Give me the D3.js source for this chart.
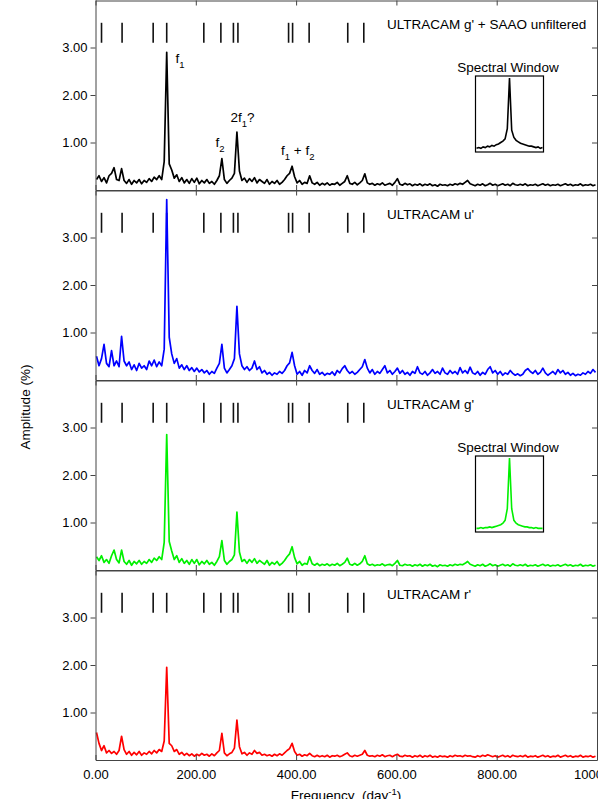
<!DOCTYPE html>
<html>
<head>
<meta charset="utf-8">
<script src="https://cdn.jsdelivr.net/npm/d3@7"></script>
<style>
  body { margin: 0; background: #fff; }
  svg { display: block; font-family: "Liberation Sans", Arial, Helvetica, sans-serif; }
  text { white-space: pre; }
</style>
</head>
<body>
<script>
// frequency grid of the amplitude spectra (day^-1)
const freqs = d3.range(2, 1000, 5)

// amplitude (%), one value per grid frequency
const ampGSaao = [
  0.22, 0.30, 0.18, 0.26, 0.15, 0.30, 0.35, 0.47, 0.22, 0.20,
  0.45, 0.20, 0.14, 0.22, 0.12, 0.20, 0.15, 0.22, 0.13, 0.20,
  0.16, 0.24, 0.18, 0.27, 0.22, 0.30, 0.22, 0.60, 2.90, 0.55,
  0.42, 0.25, 0.32, 0.18, 0.26, 0.15, 0.22, 0.14, 0.24, 0.16,
  0.25, 0.13, 0.20, 0.15, 0.22, 0.14, 0.18, 0.12, 0.20, 0.30,
  0.66, 0.22, 0.14, 0.20, 0.25, 0.35, 1.22, 0.40, 0.20, 0.25,
  0.16, 0.24, 0.18, 0.26, 0.15, 0.22, 0.18, 0.14, 0.22, 0.12,
  0.18, 0.14, 0.20, 0.12, 0.16, 0.22, 0.30, 0.35, 0.50, 0.28,
  0.15, 0.20, 0.12, 0.16, 0.14, 0.30, 0.15, 0.12, 0.16, 0.10,
  0.14, 0.11, 0.15, 0.10, 0.13, 0.12, 0.16, 0.10, 0.14, 0.18,
  0.30, 0.14, 0.12, 0.16, 0.11, 0.15, 0.20, 0.34, 0.15, 0.12,
  0.14, 0.10, 0.13, 0.11, 0.15, 0.10, 0.12, 0.14, 0.10, 0.16,
  0.24, 0.12, 0.10, 0.14, 0.11, 0.13, 0.09, 0.12, 0.10, 0.13,
  0.09, 0.12, 0.10, 0.13, 0.09, 0.11, 0.08, 0.12, 0.10, 0.11,
  0.09, 0.12, 0.10, 0.13, 0.11, 0.14, 0.12, 0.16, 0.20, 0.13,
  0.11, 0.09, 0.12, 0.10, 0.13, 0.09, 0.11, 0.14, 0.10, 0.12,
  0.09, 0.11, 0.13, 0.10, 0.12, 0.09, 0.14, 0.11, 0.10, 0.12,
  0.10, 0.13, 0.09, 0.11, 0.10, 0.12, 0.09, 0.11, 0.13, 0.10,
  0.12, 0.09, 0.11, 0.10, 0.12, 0.09, 0.11, 0.13, 0.10, 0.12,
  0.09, 0.11, 0.10, 0.13, 0.09, 0.11, 0.10, 0.12, 0.09, 0.11
]
const ampU = [
  0.50, 0.30, 0.45, 0.75, 0.35, 0.28, 0.62, 0.30, 0.40, 0.28,
  0.92, 0.40, 0.30, 0.38, 0.22, 0.32, 0.20, 0.35, 0.25, 0.30,
  0.22, 0.40, 0.30, 0.42, 0.28, 0.38, 0.30, 0.65, 3.80, 0.90,
  0.55, 0.35, 0.45, 0.25, 0.32, 0.22, 0.30, 0.20, 0.26, 0.18,
  0.25, 0.17, 0.22, 0.15, 0.20, 0.12, 0.18, 0.14, 0.25, 0.35,
  0.75, 0.25, 0.15, 0.22, 0.30, 0.45, 1.55, 0.55, 0.30, 0.22,
  0.28, 0.20, 0.25, 0.40, 0.22, 0.28, 0.15, 0.20, 0.12, 0.16,
  0.10, 0.15, 0.12, 0.18, 0.14, 0.20, 0.30, 0.36, 0.58, 0.30,
  0.12, 0.18, 0.10, 0.20, 0.15, 0.30, 0.20, 0.14, 0.22, 0.12,
  0.16, 0.10, 0.14, 0.12, 0.17, 0.10, 0.20, 0.15, 0.24, 0.30,
  0.20, 0.14, 0.18, 0.12, 0.16, 0.22, 0.28, 0.43, 0.25, 0.15,
  0.22, 0.12, 0.18, 0.14, 0.22, 0.30, 0.15, 0.20, 0.12, 0.18,
  0.25, 0.14, 0.20, 0.12, 0.16, 0.10, 0.18, 0.14, 0.28, 0.15,
  0.12, 0.18, 0.10, 0.15, 0.22, 0.14, 0.18, 0.12, 0.25, 0.15,
  0.12, 0.20, 0.14, 0.18, 0.12, 0.26, 0.15, 0.20, 0.14, 0.27,
  0.15, 0.12, 0.18, 0.10, 0.16, 0.12, 0.22, 0.28, 0.15, 0.20,
  0.12, 0.18, 0.10, 0.15, 0.12, 0.20, 0.14, 0.10, 0.13, 0.09,
  0.12, 0.20, 0.24, 0.18, 0.14, 0.20, 0.12, 0.16, 0.25, 0.15,
  0.10, 0.14, 0.18, 0.12, 0.22, 0.15, 0.20, 0.12, 0.16, 0.10,
  0.14, 0.09, 0.12, 0.10, 0.15, 0.12, 0.18, 0.14, 0.22, 0.16
]
const ampG = [
  0.28, 0.20, 0.30, 0.16, 0.22, 0.14, 0.30, 0.42, 0.22, 0.15,
  0.42, 0.18, 0.12, 0.20, 0.10, 0.18, 0.13, 0.20, 0.12, 0.18,
  0.14, 0.22, 0.16, 0.25, 0.20, 0.28, 0.22, 0.58, 2.85, 0.60,
  0.40, 0.22, 0.30, 0.16, 0.24, 0.14, 0.20, 0.12, 0.22, 0.14,
  0.22, 0.11, 0.18, 0.13, 0.20, 0.12, 0.16, 0.10, 0.18, 0.28,
  0.62, 0.20, 0.12, 0.18, 0.22, 0.32, 1.22, 0.38, 0.18, 0.22,
  0.14, 0.22, 0.16, 0.24, 0.14, 0.20, 0.16, 0.12, 0.20, 0.10,
  0.16, 0.12, 0.18, 0.10, 0.14, 0.20, 0.28, 0.34, 0.49, 0.26,
  0.13, 0.18, 0.10, 0.14, 0.12, 0.28, 0.13, 0.10, 0.14, 0.09,
  0.12, 0.10, 0.13, 0.09, 0.12, 0.10, 0.14, 0.09, 0.12, 0.16,
  0.25, 0.12, 0.10, 0.14, 0.10, 0.13, 0.18, 0.30, 0.13, 0.10,
  0.12, 0.09, 0.11, 0.10, 0.13, 0.09, 0.11, 0.12, 0.09, 0.14,
  0.20, 0.10, 0.09, 0.12, 0.10, 0.11, 0.08, 0.11, 0.09, 0.12,
  0.08, 0.11, 0.09, 0.12, 0.08, 0.10, 0.07, 0.11, 0.09, 0.10,
  0.08, 0.11, 0.09, 0.12, 0.10, 0.12, 0.11, 0.14, 0.18, 0.12,
  0.10, 0.08, 0.11, 0.09, 0.12, 0.08, 0.10, 0.13, 0.09, 0.11,
  0.08, 0.10, 0.12, 0.09, 0.11, 0.08, 0.13, 0.10, 0.09, 0.11,
  0.09, 0.12, 0.08, 0.10, 0.09, 0.11, 0.08, 0.10, 0.12, 0.09,
  0.11, 0.08, 0.10, 0.09, 0.11, 0.08, 0.10, 0.12, 0.09, 0.11,
  0.08, 0.10, 0.09, 0.12, 0.08, 0.10, 0.09, 0.11, 0.08, 0.10
]
const ampR = [
  0.58, 0.35, 0.20, 0.30, 0.15, 0.20, 0.14, 0.18, 0.12, 0.20,
  0.50, 0.22, 0.12, 0.18, 0.10, 0.16, 0.11, 0.18, 0.10, 0.15,
  0.12, 0.18, 0.13, 0.20, 0.15, 0.22, 0.18, 0.40, 1.95, 0.35,
  0.30, 0.18, 0.22, 0.12, 0.16, 0.10, 0.14, 0.09, 0.13, 0.08,
  0.12, 0.09, 0.14, 0.10, 0.12, 0.08, 0.13, 0.09, 0.15, 0.20,
  0.56, 0.15, 0.09, 0.13, 0.16, 0.25, 0.84, 0.28, 0.13, 0.16,
  0.10, 0.15, 0.12, 0.20, 0.14, 0.16, 0.10, 0.12, 0.09, 0.11,
  0.08, 0.12, 0.09, 0.13, 0.10, 0.15, 0.20, 0.24, 0.35, 0.18,
  0.10, 0.12, 0.08, 0.11, 0.09, 0.14, 0.09, 0.07, 0.10, 0.07,
  0.09, 0.07, 0.10, 0.06, 0.09, 0.08, 0.10, 0.07, 0.09, 0.12,
  0.15, 0.09, 0.07, 0.10, 0.08, 0.10, 0.12, 0.20, 0.10, 0.08,
  0.09, 0.07, 0.10, 0.08, 0.11, 0.07, 0.09, 0.10, 0.07, 0.10,
  0.12, 0.08, 0.07, 0.10, 0.08, 0.09, 0.06, 0.09, 0.07, 0.10,
  0.06, 0.09, 0.07, 0.10, 0.06, 0.08, 0.06, 0.09, 0.07, 0.08,
  0.06, 0.09, 0.07, 0.10, 0.08, 0.09, 0.07, 0.10, 0.08, 0.09,
  0.07, 0.06, 0.09, 0.07, 0.10, 0.08, 0.11, 0.09, 0.07, 0.09,
  0.06, 0.08, 0.10, 0.07, 0.09, 0.06, 0.10, 0.08, 0.07, 0.09,
  0.07, 0.10, 0.06, 0.08, 0.07, 0.09, 0.06, 0.08, 0.10, 0.07,
  0.09, 0.06, 0.08, 0.07, 0.10, 0.06, 0.08, 0.10, 0.07, 0.09,
  0.06, 0.08, 0.07, 0.10, 0.06, 0.08, 0.07, 0.09, 0.06, 0.08
]

// spectral window insets (relative frequency, normalised amplitude)
const windowOffsets = d3.range(-15, 16)
const windowGSaao = [0.03, 0.04, 0.03, 0.05, 0.04, 0.06, 0.05, 0.07, 0.06, 0.08, 0.09, 0.11, 0.13, 0.16, 0.30, 1.00,
                     0.28, 0.18, 0.14, 0.12, 0.10, 0.09, 0.08, 0.07, 0.06, 0.06, 0.05, 0.04, 0.05, 0.03, 0.04]
const windowG = [0.03, 0.03, 0.04, 0.03, 0.04, 0.04, 0.05, 0.04, 0.05, 0.06, 0.07, 0.08, 0.10, 0.14, 0.30, 1.00,
                 0.30, 0.14, 0.10, 0.08, 0.07, 0.06, 0.05, 0.05, 0.04, 0.04, 0.03, 0.04, 0.03, 0.03, 0.03]

// frequencies marked with the vertical bars at the top of each panel
const markerFreqs = [12, 53, 115, 142, 216, 250, 275, 284, 385, 393, 426, 503, 535]

const xTicks = [0, 200, 400, 600, 800, 1000]
const yTicks = [1, 2, 3]

const panels = [
  { title: "ULTRACAM g' + SAAO unfiltered", amp: ampGSaao, color: "#000000", win: windowGSaao },
  { title: "ULTRACAM u'", amp: ampU, color: "#0000ff", win: null },
  { title: "ULTRACAM g'", amp: ampG, color: "#00f000", win: windowG },
  { title: "ULTRACAM r'", amp: ampR, color: "#ff0000", win: null }
]

var width = 598,
    height = 799
var left = 95.5, right = 597, panelH = 190

var svg = d3.select("body").append("svg")
    .attr("width", width)
    .attr("height", height)

var x = d3.scaleLinear().domain([0, 1000]).range([left, right])
var fmt = d3.format(".2f")

function styleAxis(g) {
    g.attr("font-family", null).attr("font-size", 13)
    g.selectAll("path, line").attr("stroke", "#444")
    g.selectAll("text").attr("fill", "#000")
}

panels.forEach(function (p, k) {
    var top = k * panelH
    var y = d3.scaleLinear().domain([0, 4]).range([top + panelH, top])
    var g = svg.append("g")

    // marker bars
    g.selectAll("line.mark")
        .data(markerFreqs)
        .enter().append("line")
        .attr("x1", d => x(d)).attr("x2", d => x(d))
        .attr("y1", y(3.1)).attr("y2", y(3.52))
        .attr("stroke", "#111")
        .attr("stroke-width", 1.6)

    // spectrum
    var line = d3.line()
        .x((d, i) => x(freqs[i]))
        .y(d => y(d))
    g.append("path")
        .datum(p.amp)
        .attr("d", line)
        .attr("fill", "none")
        .attr("stroke", p.color)
        .attr("stroke-width", 1.7)
        .attr("stroke-linejoin", "round")

    // axes
    g.append("g").attr("transform", "translate(" + left + ",0)")
        .call(d3.axisLeft(y).tickValues(yTicks).tickFormat(fmt).tickSize(5).tickSizeOuter(0).tickPadding(3))
        .call(styleAxis)
    g.append("g").attr("transform", "translate(" + right + ",0)")
        .call(d3.axisRight(y).tickValues(yTicks).tickFormat("").tickSize(-5).tickSizeOuter(0))
        .call(styleAxis)
    g.append("g").attr("transform", "translate(0," + (top + 0.5) + ")")
        .call(d3.axisTop(x).tickValues(xTicks).tickFormat("").tickSize(-5).tickSizeOuter(0))
        .call(styleAxis)
    g.append("g").attr("transform", "translate(0," + (top + panelH) + ")")
        .call(d3.axisBottom(x).tickValues(xTicks).tickFormat(k == 3 ? fmt : "").tickSize(-5).tickSizeOuter(0).tickPadding(9.5))
        .call(styleAxis)

    // panel title
    g.append("text")
        .attr("x", 387).attr("y", top + 28.5)
        .attr("font-size", 13.5)
        .text(p.title)

    // spectral window inset
    if (p.win) {
        var bx = 475.5, by = top + 76, bw = 68, bh = 76
        var wx = d3.scaleLinear().domain([-15, 15]).range([bx + 1, bx + bw - 1])
        var wy = d3.scaleLinear().domain([0, 1]).range([by + bh - 1.5, by + 2])
        g.append("text")
            .attr("x", bx + bw / 2 - 1.5).attr("y", top + 71.5)
            .attr("text-anchor", "middle")
            .attr("font-size", 13.5)
            .text("Spectral Window")
        g.append("path")
            .datum(p.win)
            .attr("d", d3.line().x((d, i) => wx(windowOffsets[i])).y(d => wy(d)))
            .attr("fill", "none")
            .attr("stroke", p.color)
            .attr("stroke-width", 1.6)
        g.append("rect")
            .attr("x", bx).attr("y", by)
            .attr("width", bw).attr("height", bh)
            .attr("fill", "none")
            .attr("stroke", "#000")
            .attr("stroke-width", 1.2)
    }
})

// peak labels in the top panel
function label(xp, yp, parts) {
    var t = svg.append("text").attr("x", xp).attr("y", yp).attr("font-size", 13.5)
    parts.forEach(function (s) {
        t.append("tspan")
            .attr("dy", s[1])
            .attr("font-size", s[2] || 13.5)
            .text(s[0])
    })
}
label(175.5, 63, [["f", 0], ["1", 5, 9.5]])
label(215.5, 147, [["f", 0], ["2", 5, 9.5]])
label(230.5, 122, [["2f", 0], ["1", 5, 9.5], ["?", -5]])
label(281, 155, [["f", 0], ["1", 5, 9.5], [" + f", -5], ["2", 5, 9.5]])

// axis titles
svg.append("text")
    .attr("transform", "translate(30,407) rotate(-90)")
    .attr("text-anchor", "middle")
    .attr("font-size", 13.5)
    .text("Amplitude (%)")

var xt = svg.append("text")
    .attr("x", 346).attr("y", 800)
    .attr("text-anchor", "middle")
    .attr("font-size", 13.5)
xt.append("tspan").text("Frequency  (day")
xt.append("tspan").attr("dy", -5).attr("font-size", 9.5).text("-1")
xt.append("tspan").attr("dy", 5).text(")")
</script>
</body>
</html>
